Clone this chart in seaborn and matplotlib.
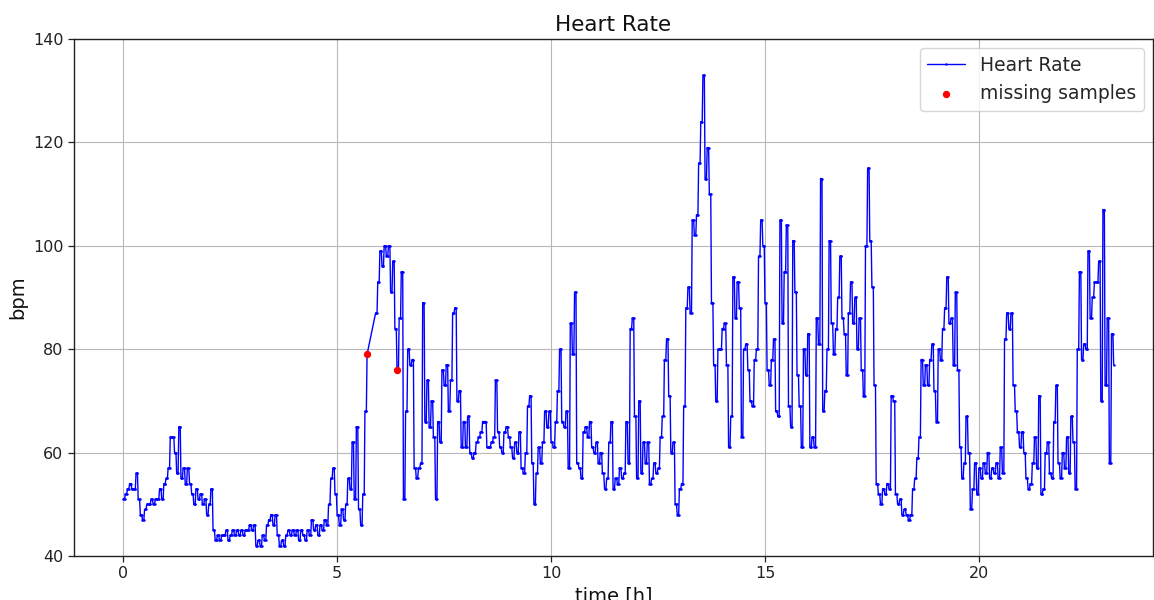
import numpy as np
import pandas as pd
import matplotlib
matplotlib.use("Agg")
import matplotlib.pyplot as plt
import seaborn as sns

# Heart rate in bpm, one reading every 3 minutes (0.05 h), starting at t = 0 h.
# None marks readings that were not recorded.
bpm_h00_04 = [
    51, 52, 53, 54, 53, 53, 56, 51, 48, 47, 49, 50, 50, 51, 50, 51, 51, 53, 51, 54,
    55, 57, 63, 63, 60, 56, 65, 55, 57, 54, 57, 54, 52, 50, 53, 51, 52, 50, 51, 48,
    50, 53, 45, 43, 44, 43, 44, 44, 45, 43, 44, 45, 44, 45, 44, 45, 44, 45, 45, 46,
    45, 46, 42, 43, 42, 44, 43, 46, 47, 48, 46, 48, 44, 42, 43, 42, 44, 45, 44, 45,
]
bpm_h04_08 = [
    44, 45, 43, 45, 44, 43, 45, 44, 47, 45, 46, 44, 46, 45, 47, 46, 50, 55, 57, 52,
    48, 46, 49, 47, 50, 55, 53, 62, 51, 65, 49, 46, 52, 68, 79, None, None, None, 87, 93,
    99, 96, 100, 98, 100, 91, 97, 84, 76, 86, 95, 51, 68, 80, 77, 78, 57, 55, 57, 58,
    89, 66, 74, 65, 70, 63, 51, 66, 62, 76, 73, 77, 68, 74, 87, 88, 70, 72, 61, 66,
]
bpm_h08_12 = [
    61, 67, 60, 59, 60, 62, 63, 64, 66, 66, 61, 61, 62, 63, 74, 64, 61, 60, 64, 65,
    63, 61, 59, 62, 60, 64, 57, 56, 60, 69, 71, 58, 50, 56, 61, 58, 62, 68, 65, 68,
    62, 61, 66, 72, 80, 66, 65, 68, 57, 85, 79, 91, 58, 57, 55, 64, 65, 63, 66, 61,
    60, 62, 58, 60, 56, 53, 55, 62, 66, 53, 55, 54, 57, 55, 56, 66, 58, 84, 86, 67,
]
bpm_h12_16 = [
    55, 70, 56, 62, 58, 62, 54, 55, 58, 56, 57, 63, 67, 78, 82, 71, 60, 62, 50, 48,
    53, 54, 69, 88, 92, 87, 105, 102, 106, 116, 124, 133, 113, 119, 110, 89, 77, 70, 80, 80,
    84, 85, 77, 61, 67, 94, 86, 93, 88, 63, 80, 81, 76, 70, 69, 78, 80, 98, 105, 100,
    89, 76, 73, 78, 82, 68, 67, 105, 85, 95, 104, 69, 65, 101, 91, 75, 69, 61, 80, 75,
]
bpm_h16_20 = [
    83, 61, 63, 61, 86, 81, 113, 68, 72, 80, 101, 85, 79, 84, 90, 98, 86, 83, 75, 87,
    93, 85, 90, 80, 86, 76, 71, 100, 115, 101, 92, 73, 54, 52, 50, 53, 52, 54, 53, 71,
    70, 52, 50, 51, 48, 49, 48, 47, 48, 53, 55, 59, 63, 78, 73, 77, 73, 78, 81, 72,
    66, 80, 78, 84, 88, 94, 85, 86, 77, 91, 76, 61, 55, 58, 67, 60, 49, 53, 58, 52,
]
bpm_h20_24 = [
    57, 55, 58, 56, 60, 55, 57, 56, 58, 55, 61, 56, 82, 87, 84, 87, 73, 68, 64, 61,
    64, 60, 55, 53, 54, 58, 63, 57, 71, 52, 53, 60, 62, 56, 55, 66, 73, 58, 55, 60,
    57, 63, 56, 67, 62, 53, 80, 95, 78, 81, 80, 99, 86, 90, 93, 93, 97, 70, 107, 73,
    86, 58, 83, 77,
]

# Samples reconstructed after a dropout, highlighted in red
missing_time = [5.70, 6.40]
missing_bpm = [79, 76]

READING_STEP_H = 0.05   # sensor reports every 3 minutes
SAMPLES_PER_READING = 3  # signal resampled to 1 minute, each reading held

readings = bpm_h00_04 + bpm_h04_08 + bpm_h08_12 + bpm_h12_16 + bpm_h16_20 + bpm_h20_24
readings = np.array([np.nan if v is None else v for v in readings], dtype=float)

# hold each reading for the following minutes (zero-order hold)
held = np.repeat(readings, SAMPLES_PER_READING)
minute_time = np.arange(len(held)) * (READING_STEP_H / SAMPLES_PER_READING)
hr = pd.DataFrame({"time": minute_time, "bpm": held}).dropna()
# keep the gap bridged by a straight segment: drop held copies inside the gap
hr = hr[~((hr["time"] > 5.70) & (hr["time"] < 5.90))]
hr = hr[hr["time"] <= 23.15 + 1e-9]

gaps = pd.DataFrame({"time": missing_time, "bpm": missing_bpm})

sns.set_theme(style="ticks", rc={"axes.grid": True})
plt.rcParams["font.family"] = ["DejaVu Sans"]

fig = plt.figure(figsize=(11.54, 6.0), dpi=100)
ax = fig.add_axes([74 / 1154, 44 / 600, 1079 / 1154, 517 / 600])

sns.lineplot(data=hr, x="time", y="bpm", ax=ax, color="blue", linewidth=1.0,
             marker=".", markersize=3.5, markeredgewidth=0, sort=False,
             estimator=None, label="Heart Rate", zorder=2)
sns.scatterplot(data=gaps, x="time", y="bpm", ax=ax, color="red", s=28,
                linewidth=0, label="missing samples", zorder=3)

ax.set_xlim(-1.15, 24.07)
ax.set_ylim(40, 140)
ax.set_xticks([0, 5, 10, 15, 20])
ax.set_yticks([40, 60, 80, 100, 120, 140])
ax.grid(True, color="#b8b8b8", linewidth=0.8)
for side in ("top", "right", "left", "bottom"):
    ax.spines[side].set_visible(True)
    ax.spines[side].set_color("#222222")
    ax.spines[side].set_linewidth(1.0)
ax.tick_params(axis="both", labelsize=11.5, colors="#222222", length=4, width=0.9)

ax.set_title("Heart Rate", fontsize=15.5, color="#111111", pad=6)
ax.set_xlabel("time [h]", fontsize=14, color="#111111")
ax.set_ylabel("bpm", fontsize=14, color="#111111")

leg = ax.legend(loc="upper right", fontsize=13.5, frameon=True, framealpha=0.8,
                borderpad=0.4, handlelength=2.0)
leg.get_frame().set_edgecolor("#cccccc")

fig.savefig("out.png", dpi=100)
